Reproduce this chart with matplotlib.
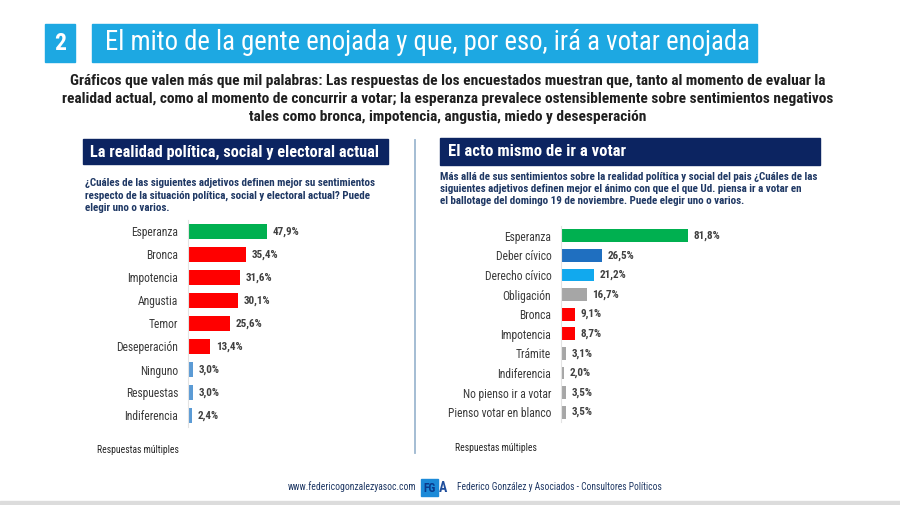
import matplotlib.pyplot as plt
from matplotlib.patches import Rectangle

FONT = ['Roboto Condensed', 'Roboto', 'DejaVu Sans']
plt.rcParams['font.family'] = FONT

# datos
cat_izq = ["Esperanza", "Bronca", "Impotencia", "Angustia", "Temor",
           "Deseperación", "Ninguno", "Respuestas", "Indiferencia"]
val_izq = [47.9, 35.4, 31.6, 30.1, 25.6, 13.4, 3.0, 3.0, 2.4]
col_izq = ["#00B050", "#FF0000", "#FF0000", "#FF0000", "#FF0000",
           "#FF0000", "#5B9BD5", "#5B9BD5", "#5B9BD5"]

cat_der = ["Esperanza", "Deber cívico", "Derecho cívico", "Obligación", "Bronca",
           "Impotencia", "Trámite", "Indiferencia", "No pienso ir a votar",
           "Pienso votar en blanco"]
val_der = [81.8, 26.5, 21.2, 16.7, 9.1, 8.7, 3.1, 2.0, 3.5, 3.5]
col_der = ["#00B050", "#1F6FC0", "#11A9EE", "#A6A6A6", "#FF0000",
           "#FF0000", "#A6A6A6", "#A6A6A6", "#A6A6A6", "#A6A6A6"]

titulo = "El mito de la gente enojada y que, por eso, irá a votar enojada"
subtitulo = ["Gráficos que valen más que mil palabras: Las respuestas de los encuestados muestran que, tanto al momento de evaluar la",
             "realidad actual, como al momento de concurrir a votar; la esperanza prevalece ostensiblemente sobre sentimientos negativos",
             "tales como bronca, impotencia, angustia, miedo y desesperación"]
pregunta_izq = ["¿Cuáles de las siguientes adjetivos definen mejor su sentimientos",
                "respecto de la situación política, social y electoral actual? Puede",
                "elegir uno o varios."]
pregunta_der = ["Más allá de sus sentimientos sobre la realidad política y social del pais ¿Cuáles de las",
                "siguientes adjetivos definen mejor el ánimo con que el que Ud. piensa ir a votar en",
                "el ballotage del domingo 19 de noviembre. Puede elegir uno o varios."]

W, H = 900, 505
fig = plt.figure(figsize=(W / 100, H / 100), dpi=100)
rend = fig.canvas.get_renderer()


def talla(texto, ancho, peso="normal"):
    """tamaño de letra para que el texto mida 'ancho' pixeles"""
    t = fig.text(0, 0, texto, fontsize=10, fontweight=peso)
    w = t.get_window_extent(rend).width
    t.remove()
    return 10 * ancho / w


# capa de fondo en pixeles
bg = fig.add_axes([0, 0, 1, 1])
bg.set_xlim(0, W)
bg.set_ylim(H, 0)
bg.axis('off')

CELESTE = "#1DA8E2"
NAVY = "#0C2461"
AZUL_TXT = "#1F3864"

bg.add_patch(Rectangle((45, 24), 30, 38, color=CELESTE))
bg.text(60, 43, "2", color="white", fontsize=17, fontweight="bold", ha="center", va="center")
bg.add_patch(Rectangle((92, 24), 665, 38, color=CELESTE))
bg.text(105, 43, titulo, color="white", fontsize=talla(titulo, 640), ha="left", va="center")

fs_sub = talla(subtitulo[1], 773, "bold")
for i, linea in enumerate(subtitulo):
    bg.text(448, 81 + i * 18, linea, color="#1F1F1F", fontsize=fs_sub,
            fontweight="bold", ha="center", va="center")

# encabezados
t1 = "La realidad política, social y electoral actual"
t2 = "El acto mismo de ir a votar"
bg.add_patch(Rectangle((83, 139), 305, 25, color=NAVY))
bg.text(90, 152, t1, color="white", fontsize=talla(t1, 288, "bold"),
        fontweight="bold", ha="left", va="center")
bg.add_patch(Rectangle((440, 138), 380, 27, color=NAVY))
bg.text(448, 152, t2, color="white", fontsize=talla(t2, 177, "bold"),
        fontweight="bold", ha="left", va="center")

bg.plot([415, 415], [140, 453], color="#9DB8D0", lw=1.3)

fs_q = talla(pregunta_izq[0], 290, "bold")
for i, linea in enumerate(pregunta_izq):
    bg.text(85, 183 + i * 12.5, linea, color=AZUL_TXT, fontsize=fs_q,
            fontweight="bold", ha="left", va="center")
fs_q2 = talla(pregunta_der[0], 378, "bold")
for i, linea in enumerate(pregunta_der):
    bg.text(440, 177 + i * 12, linea, color=AZUL_TXT, fontsize=fs_q2,
            fontweight="bold", ha="left", va="center")

fs_nota = talla("Respuestas múltiples", 81)
bg.text(97, 450, "Respuestas múltiples", color="#262626", fontsize=fs_nota, ha="left", va="center")
bg.text(455, 448, "Respuestas múltiples", color="#262626", fontsize=fs_nota, ha="left", va="center")

# pie
url = "www.federicogonzalezyasoc.com"
firma = "Federico González y Asociados - Consultores Políticos"
bg.text(416, 487, url, color=AZUL_TXT, fontsize=talla(url, 127), ha="right", va="center")
bg.add_patch(Rectangle((421, 479), 17, 17, color="#1C8AD8"))
bg.text(429.5, 488, "FG", color="#0A3A8C", fontsize=8.5, fontweight="bold", ha="center", va="center")
bg.text(443, 488, "A", color="#1F4E9C", fontsize=10, fontweight="bold", ha="center", va="center")
bg.text(457, 487, firma, color=AZUL_TXT, fontsize=talla(firma, 204), ha="left", va="center")
bg.add_patch(Rectangle((0, 501), W, 4, color="#DCDCDC"))


def barras(x0, y_top, y_bot, px_pct, cats, vals, cols, alto, fs_cat, fs_val):
    ax = fig.add_axes([x0 / W, 1 - y_bot / H, px_pct * 100 / W, (y_bot - y_top) / H])
    pos = range(len(cats))
    ax.barh(pos, vals, color=cols, height=alto)
    ax.set_xlim(0, 100)
    ax.set_ylim(len(cats) - 0.5, -0.5)
    ax.set_yticks(list(pos))
    ax.set_yticklabels(cats, fontsize=fs_cat, color="#3A3A3A")
    ax.tick_params(axis='y', length=0, pad=7)
    ax.set_xticks([])
    for s in ["top", "right", "bottom"]:
        ax.spines[s].set_visible(False)
    ax.spines["left"].set_color("#E3E3E3")
    ax.patch.set_alpha(0)
    for p, v in zip(pos, vals):
        ax.annotate(f"{v:.1f}%".replace(".", ","), (v, p), xytext=(4, 0),
                    textcoords="offset points", va="center", ha="left",
                    fontsize=fs_val, fontweight="bold", color="#404040")
    return ax


fs_cat = talla("Pienso votar en blanco", 103)
fs_val = talla("47,9%", 27, "bold")
barras(188, 220, 427, 1.65, cat_izq, val_izq, col_izq, 0.65, fs_cat, fs_val)
barras(561, 226, 422, 1.555, cat_der, val_der, col_der, 0.66, fs_cat, fs_val)

fig.savefig("out.png", dpi=100)
